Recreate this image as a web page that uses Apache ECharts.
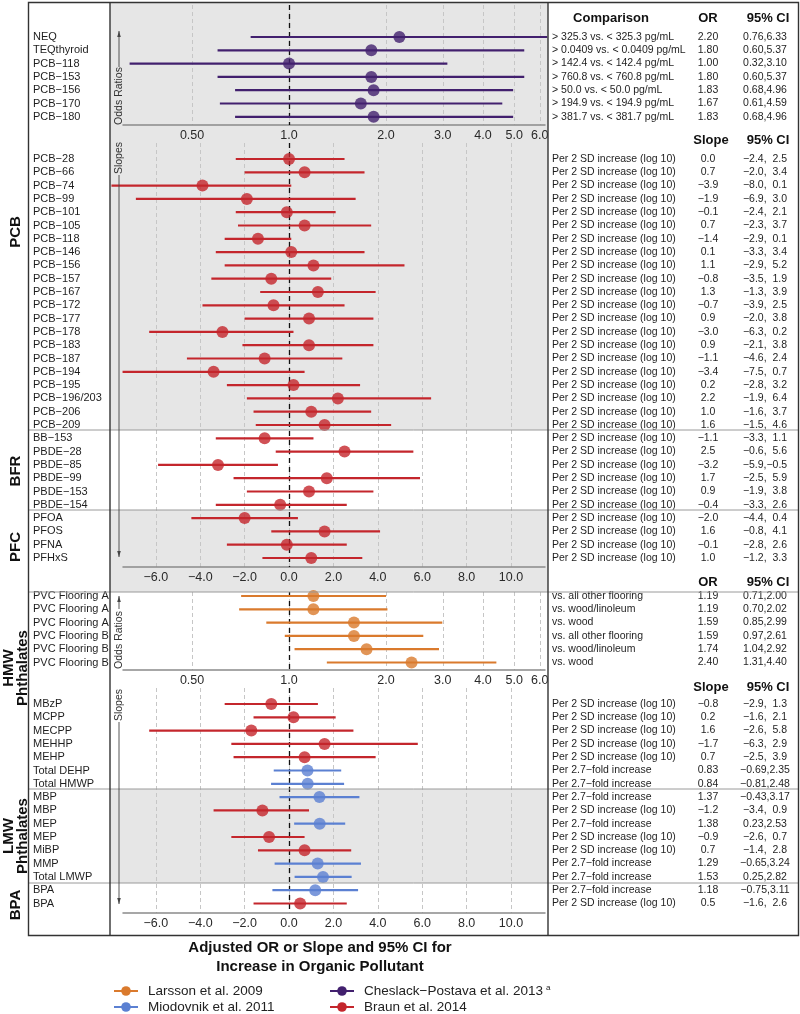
<!DOCTYPE html>
<html>
<head>
<meta charset="UTF-8">
<title>Organic pollutants – OR and slopes</title>
<script src="https://cdn.jsdelivr.net/npm/echarts@6.0.0/dist/echarts.min.js"></script>
<style>body{margin:0;background:#fff;}</style>
</head>
<body>
<div id="main" style="width:800px;height:1014px;"></div>
<script type="text/javascript">
// ---- data -------------------------------------------------------------
var studies = ['Larsson et al. 2009', 'Miodovnik et al. 2011', 'Cheslack\u2212Postava et al. 2013', 'Braun et al. 2014'];
var studyColors = ['#da7a2d', '#5b80d2', '#42206e', '#c4262c'];

// Cheslack-Postava 2013, odds ratios
var orNames1 = ['NEQ', 'TEQthyroid', 'PCB\u2212118', 'PCB\u2212153', 'PCB\u2212156', 'PCB\u2212170', 'PCB\u2212180'];
var orComp1 = ['> 325.3 vs. < 325.3 pg/mL', '> 0.0409 vs. < 0.0409 pg/mL', '> 142.4 vs. < 142.4 pg/mL',
  '> 760.8 vs. < 760.8 pg/mL', '> 50.0 vs. < 50.0 pg/mL', '> 194.9 vs. < 194.9 pg/mL', '> 381.7 vs. < 381.7 pg/mL'];
var orEst1 = [2.20, 1.80, 1.00, 1.80, 1.83, 1.67, 1.83];
var orLo1 = [0.76, 0.60, 0.32, 0.60, 0.68, 0.61, 0.68];
var orHi1 = [6.33, 5.37, 3.10, 5.37, 4.96, 4.59, 4.96];

// Braun 2014, slopes for PCB / BFR / PFC
var slNames1 = ['PCB\u221228', 'PCB\u221266', 'PCB\u221274', 'PCB\u221299', 'PCB\u2212101', 'PCB\u2212105', 'PCB\u2212118',
  'PCB\u2212146', 'PCB\u2212156', 'PCB\u2212157', 'PCB\u2212167', 'PCB\u2212172', 'PCB\u2212177', 'PCB\u2212178',
  'PCB\u2212183', 'PCB\u2212187', 'PCB\u2212194', 'PCB\u2212195', 'PCB\u2212196/203', 'PCB\u2212206', 'PCB\u2212209',
  'BB\u2212153', 'PBDE\u221228', 'PBDE\u221285', 'PBDE\u221299', 'PBDE\u2212153', 'PBDE\u2212154',
  'PFOA', 'PFOS', 'PFNA', 'PFHxS'];
var slEst1 = [0.0, 0.7, -3.9, -1.9, -0.1, 0.7, -1.4, 0.1, 1.1, -0.8, 1.3, -0.7, 0.9, -3.0, 0.9, -1.1, -3.4, 0.2, 2.2, 1.0, 1.6,
  -1.1, 2.5, -3.2, 1.7, 0.9, -0.4, -2.0, 1.6, -0.1, 1.0];
var slLo1 = [-2.4, -2.0, -8.0, -6.9, -2.4, -2.3, -2.9, -3.3, -2.9, -3.5, -1.3, -3.9, -2.0, -6.3, -2.1, -4.6, -7.5, -2.8, -1.9, -1.6, -1.5,
  -3.3, -0.6, -5.9, -2.5, -1.9, -3.3, -4.4, -0.8, -2.8, -1.2];
var slHi1 = [2.5, 3.4, 0.1, 3.0, 2.1, 3.7, 0.1, 3.4, 5.2, 1.9, 3.9, 2.5, 3.8, 0.2, 3.8, 2.4, 0.7, 3.2, 6.4, 3.7, 4.6,
  1.1, 5.6, -0.5, 5.9, 3.8, 2.6, 0.4, 4.1, 2.6, 3.3];

// Larsson 2009, odds ratios for PVC flooring
var orNames2 = ['PVC Flooring A', 'PVC Flooring A', 'PVC Flooring A', 'PVC Flooring B', 'PVC Flooring B', 'PVC Flooring B'];
var orComp2 = ['vs. all other flooring', 'vs. wood/linoleum', 'vs. wood', 'vs. all other flooring', 'vs. wood/linoleum', 'vs. wood'];
var orEst2 = [1.19, 1.19, 1.59, 1.59, 1.74, 2.40];
var orLo2 = [0.71, 0.70, 0.85, 0.97, 1.04, 1.31];
var orHi2 = [2.00, 2.02, 2.99, 2.61, 2.92, 4.40];

// phthalates and BPA; study 1 = Miodovnik, 3 = Braun
var slNames2 = ['MBzP', 'MCPP', 'MECPP', 'MEHHP', 'MEHP', 'Total DEHP', 'Total HMWP',
  'MBP', 'MBP', 'MEP', 'MEP', 'MiBP', 'MMP', 'Total LMWP', 'BPA', 'BPA'];
var slStudy2 = [3, 3, 3, 3, 3, 1, 1, 1, 3, 1, 3, 3, 1, 1, 1, 3];
var slEst2 = [-0.8, 0.2, -1.7, 1.6, 0.7, 0.83, 0.84, 1.37, -1.2, 1.38, -0.9, 0.7, 1.29, 1.53, 1.18, 0.5];
var slLo2 = [-2.9, -1.6, -6.3, -2.6, -2.5, -0.69, -0.81, -0.43, -3.4, 0.23, -2.6, -1.4, -0.65, 0.25, -0.75, -1.6];
var slHi2 = [1.3, 2.1, 2.9, 5.8, 3.9, 2.35, 2.48, 3.17, 0.9, 2.53, 0.7, 2.8, 3.24, 2.82, 3.11, 2.6];
// the printed table lists the MECPP / MEHHP numbers the other way round from the plot
var tabOrder2 = [0, 1, 3, 2, 4, 5, 6, 7, 8, 9, 10, 11, 12, 13, 14, 15];
var unitText = { 1: 'Per 2.7\u2212fold increase', 3: 'Per 2 SD increase (log 10)' };

// axis ticks
var orTicks = [0.5, 1, 2, 3, 4, 5, 6];
var orTickLabels = ['0.50', '1.0', '2.0', '3.0', '4.0', '5.0', '6.0'];
var slTicks = [-6, -4, -2, 0, 2, 4, 6, 8, 10];

// ---- layout -----------------------------------------------------------
var FONT = '"Liberation Sans", Arial, Helvetica, sans-serif';
var ROW = 13.3;
var PLOT_L = 123, PLOT_R = 545;
var SL_MIN = -7.48, SL_MAX = 11.53;          // slope units across the plot column
var OR_PER_SL = 97 / 22.2;                   // px per doubling / px per slope unit
var OR_MIN = SL_MIN / OR_PER_SL, OR_MAX = SL_MAX / OR_PER_SL;
var panels = [
  { top: 5, height: 120, first: 37 },
  { top: 143, height: 424, first: 159 },
  { top: 592, height: 78, first: 596 },
  { top: 688, height: 225, first: 704 }
];

function lg(v) { return Math.log(v) / Math.LN2; }
function fmt(v, d) { return v.toFixed(d).replace('-', '\u2212'); }
function ciText(lo, hi, d) { return fmt(lo, d) + ',' + (d === 1 && hi >= 0 ? '  ' : '') + fmt(hi, d); }

// build row objects for each panel
var rowsA = orNames1.map(function (n, i) {
  return { name: n, est: lg(orEst1[i]), lo: lg(orLo1[i]), hi: lg(orHi1[i]), color: studyColors[2],
    desc: orComp1[i], val: fmt(orEst1[i], 2), ci: orLo1[i].toFixed(2) + ',' + orHi1[i].toFixed(2) };
});
var rowsB = slNames1.map(function (n, i) {
  return { name: n, est: slEst1[i], lo: slLo1[i], hi: slHi1[i], color: studyColors[3],
    desc: unitText[3], val: fmt(slEst1[i], 1), ci: ciText(slLo1[i], slHi1[i], 1) };
});
var rowsC = orNames2.map(function (n, i) {
  return { name: n, est: lg(orEst2[i]), lo: lg(orLo2[i]), hi: lg(orHi2[i]), color: studyColors[0],
    desc: orComp2[i], val: orEst2[i].toFixed(2), ci: orLo2[i].toFixed(2) + ',' + orHi2[i].toFixed(2) };
});
var rowsD = slNames2.map(function (n, i) {
  var k = tabOrder2[i], d = slStudy2[k] === 1 ? 2 : 1;
  return { name: n, est: slEst2[i], lo: slLo2[i], hi: slHi2[i], color: studyColors[slStudy2[i]],
    desc: unitText[slStudy2[k]], val: fmt(slEst2[k], d), ci: ciText(slLo2[k], slHi2[k], d) };
});

function txt(text, x, y, extra) {
  var s = { text: text, fill: '#1e1e1e', fontSize: 10.5, fontFamily: FONT, align: 'left', verticalAlign: 'middle' };
  for (var k in extra) s[k] = extra[k];
  return { type: 'text', x: x, y: y, style: s };
}

function forest(g, rows) {
  return [{
    type: 'custom', xAxisIndex: g, yAxisIndex: g, z: 3, clip: false, silent: true,
    data: rows.map(function (r, i) { return [r.lo, r.hi, i]; }),
    encode: { x: [0, 1], y: 2 },
    renderItem: function (params, api) {
      var i = api.value(2), r = rows[i];
      var a = api.coord([api.value(0), i]), b = api.coord([api.value(1), i]);
      return { type: 'group', children: [
        { type: 'line', shape: { x1: a[0], y1: a[1], x2: b[0], y2: b[1] }, style: { stroke: r.color, lineWidth: 2.2 } },
        txt(r.name, 33, a[1], { fontSize: 11 }),
        txt(r.desc, 552, a[1], {}),
        txt(r.val, 708, a[1], { align: 'center' }),
        txt(r.ci, 765, a[1], { align: 'center' })
      ] };
    }
  }, {
    type: 'scatter', xAxisIndex: g, yAxisIndex: g, z: 4, silent: true, symbolSize: 12,
    data: rows.map(function (r, i) { return { value: [r.est, i], itemStyle: { color: r.color } }; }),
    markLine: {
      z: 2, silent: true, symbol: 'none', label: { show: false },
      lineStyle: { color: '#111', type: [5, 4], width: 1.3 },
      data: [{ xAxis: 0 }]
    }
  }];
}

var axisLine = { show: true, onZero: false, lineStyle: { color: '#8a8a8a', width: 1.5 } };
var gridLine = { show: true, lineStyle: { color: '#c6c6c6', type: [4, 3], width: 1 } };
var tickFont = { fontSize: 12.5, color: '#2a2a2a', fontFamily: FONT, margin: 4 };

function orAxis(g) {
  var vals = orTicks.map(lg);
  return { gridIndex: g, type: 'value', min: OR_MIN, max: OR_MAX, axisLine: axisLine,
    axisTick: { show: false, customValues: vals }, splitLine: gridLine,
    axisLabel: Object.assign({ customValues: vals, formatter: function (v) {
      for (var i = 0; i < vals.length; i++) if (Math.abs(vals[i] - v) < 1e-6) return orTickLabels[i];
      return '';
    } }, tickFont) };
}
function slAxis(g) {
  return { gridIndex: g, type: 'value', min: SL_MIN, max: SL_MAX, axisLine: axisLine,
    axisTick: { show: false, customValues: slTicks }, splitLine: gridLine,
    axisLabel: Object.assign({ customValues: slTicks, formatter: function (v) { return fmt(v, 1); } }, tickFont) };
}

// ---- decorations ---------------------------------------------------------
var gfx = [];
// panel backgrounds of the plot column
[[2, 430, '#e6e6e6'], [510, 592, '#e6e6e6'], [789, 883, '#e6e6e6']].forEach(function (b) {
  gfx.push({ type: 'rect', z: -10, shape: { x: 110, y: b[0], width: 438, height: b[1] - b[0] }, style: { fill: b[2] } });
});
// separators between compound classes
[430, 510, 592, 789, 883].forEach(function (y) {
  gfx.push({ type: 'line', z: 20, shape: { x1: 28, y1: y, x2: 799, y2: y }, style: { stroke: '#9a9a9a', lineWidth: 1 } });
});
// frame
gfx.push({ type: 'rect', z: 30, shape: { x: 28.5, y: 2.5, width: 770, height: 933 }, style: { fill: null, stroke: '#333', lineWidth: 1.4 } });
[110, 548].forEach(function (x) {
  gfx.push({ type: 'line', z: 30, shape: { x1: x, y1: 2, x2: x, y2: 935 }, style: { stroke: '#333', lineWidth: 1.4 } });
});
// compound class labels
[['PCB', 232], ['BFR', 471], ['PFC', 547], ['HMW\nPhthalates', 668], ['LMW\nPhthalates', 836], ['BPA', 905]].forEach(function (c) {
  gfx.push({ type: 'text', x: 16, y: c[1], rotation: Math.PI / 2, z: 20,
    style: { text: c[0], fill: '#111', font: 'bold 15px ' + FONT, align: 'center', verticalAlign: 'middle', lineHeight: 14 } });
});
// "Odds Ratios" / "Slopes" side notes with arrows
function sideNote(text, cy, y1, y2, up) {
  gfx.push({ type: 'text', x: 119, y: cy, rotation: Math.PI / 2, z: 20,
    style: { text: text, fill: '#333', fontSize: 10.5, fontFamily: FONT, align: 'center', verticalAlign: 'middle' } });
  gfx.push({ type: 'line', z: 20, shape: { x1: 119, y1: y1, x2: 119, y2: y2 }, style: { stroke: '#444', lineWidth: 0.9 } });
  var t = up ? y1 : y2, s = up ? 6 : -6;
  gfx.push({ type: 'polygon', z: 20, shape: { points: [[119, t], [117.2, t + s], [120.8, t + s]] }, style: { fill: '#444' } });
}
sideNote('Odds Ratios', 96, 31, 67, true);
sideNote('Slopes', 158, 175, 557, false);
sideNote('Odds Ratios', 640, 596, 609, true);
sideNote('Slopes', 705, 722, 904, false);
// table headers
function head(text, x, y) {
  gfx.push({ type: 'text', x: x, y: y, z: 20,
    style: { text: text, fill: '#111', font: 'bold 13px ' + FONT, align: 'center', verticalAlign: 'middle' } });
}
head('Comparison', 611, 18); head('OR', 708, 18); head('95% CI', 768, 18);
head('Slope', 711, 140); head('95% CI', 768, 140);
head('OR', 708, 582); head('95% CI', 768, 582);
head('Slope', 711, 687); head('95% CI', 768, 687);
// x-axis title
gfx.push({ type: 'text', x: 320, y: 957, z: 20,
  style: { text: 'Adjusted OR or Slope and 95% CI for\nIncrease in Organic Pollutant', fill: '#111',
    font: 'bold 15px ' + FONT, align: 'center', verticalAlign: 'middle', lineHeight: 19 } });

// ---- chart --------------------------------------------------------------
var grids = panels.map(function (p) {
  return { left: PLOT_L, right: 800 - PLOT_R, top: p.top, height: p.height, outerBoundsMode: 'none' };
});
var yAxes = panels.map(function (p, g) {
  var mn = -(p.first - p.top) / ROW;
  return { gridIndex: g, type: 'value', inverse: true, show: false, min: mn, max: mn + p.height / ROW };
});

// empty line series only give the legend its line-and-dot keys
var legendSeries = studies.map(function (s, i) {
  return { name: s, type: 'line', xAxisIndex: 0, yAxisIndex: 0, data: [], symbol: 'circle', symbolSize: 9,
    itemStyle: { color: studyColors[i] }, lineStyle: { color: studyColors[i], width: 2 } };
});

var option = {
  animation: false,
  backgroundColor: '#fff',
  textStyle: { fontFamily: FONT },
  grid: grids,
  xAxis: [orAxis(0), slAxis(1), orAxis(2), slAxis(3)],
  yAxis: yAxes,
  legend: {
    data: [studies[0], studies[2], studies[1], studies[3]],
    left: 113, top: 984, width: 470, padding: 0, orient: 'horizontal',
    itemGap: 2, itemWidth: 24, itemHeight: 12, selectedMode: false,
    textStyle: { fontSize: 13.5, color: '#222', fontFamily: FONT, padding: [0, 0, 0, 5],
      rich: {
        n: { width: 179, fontSize: 13.5, lineHeight: 14, color: '#222', fontFamily: FONT },
        c: { fontSize: 13.5, lineHeight: 14, color: '#222', fontFamily: FONT },
        sup: { fontSize: 8, color: '#222', verticalAlign: 'top', padding: [0, 0, 6, 3] }
      } },
    formatter: function (n) {
      if (n === studies[2]) return '{c|' + n + '}{sup|a}';
      return '{n|' + n + '}';
    }
  },
  graphic: gfx,
  series: legendSeries.concat(forest(0, rowsA), forest(1, rowsB), forest(2, rowsC), forest(3, rowsD))
};

var myChart = echarts.init(document.getElementById('main'));
myChart.setOption(option);
</script>
</body>
</html>
